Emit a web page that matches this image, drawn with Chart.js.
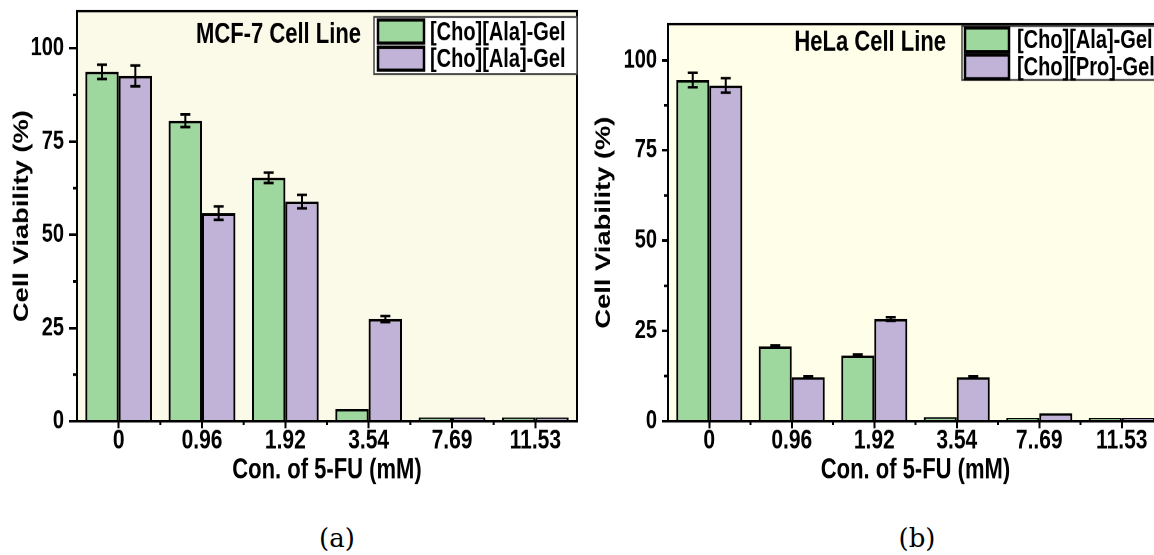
<!DOCTYPE html>
<html>
<head>
<meta charset="utf-8">
<script src="https://cdn.jsdelivr.net/npm/chart.js@4.4.0/dist/chart.umd.min.js"></script>
<style>
  html, body { margin: 0; padding: 0; background: #fff; }
  body { width: 1154px; height: 555px; overflow: hidden; position: relative; }
  /* the source figure is stretched vertically, so the panels are too */
  .panel { position: absolute; top: 0; width: 600px; height: 385px; transform: scaleY(1.3); transform-origin: 0 0; }
  .cap { position: absolute; top: 523px; width: 80px; margin-left: -40px; text-align: center;
         font-family: 'DejaVu Serif', 'Liberation Serif', serif; font-size: 26px; line-height: 30px; color: #000; }
</style>
</head>
<body>
<div class="panel" style="left:0"><canvas id="chartA" width="600" height="385"></canvas></div>
<div class="panel" style="left:585px"><canvas id="chartB" width="600" height="385"></canvas></div>
<div class="cap" style="left:337px">(a)</div>
<div class="cap" style="left:917px">(b)</div>
<script>
const labelsA = ['0', '0.96', '1.92', '3.54', '7.69', '11.53'];
const labelsB = ['0', '0.96', '1.92', '3.54', '7..69', '11.53'];
const yTicks = [0, 25, 50, 75, 100];

// MCF-7 (both series are labelled [Cho][Ala]-Gel in the figure)
const mcfFirst = [93.7, 80.6, 65.3, 3.3, 1.0, 1.0];
const mcfFirstErr = [1.9, 1.7, 1.4, 0, 0, 0];
const mcfSecond = [92.6, 55.8, 58.9, 27.4, 1.0, 1.0];
const mcfSecondErr = [2.8, 1.8, 1.8, 0.8, 0, 0];

// HeLa
const helaAla = [94.5, 20.7, 18.2, 1.1, 0.9, 0.9];
const helaAlaErr = [2.0, 0.3, 0.3, 0, 0, 0];
const helaPro = [93.0, 12.2, 28.3, 12.2, 2.2, 0.9];
const helaProErr = [2.0, 0.2, 0.5, 0.2, 0, 0];

const green = '#9fd89f';
const purple = '#c1b2d7';
const fontFam = '"Liberation Sans", Arial, sans-serif';

Chart.defaults.font.family = fontFam;
Chart.defaults.color = '#000';

// background, error bars, minor ticks, frame, inner title and legend
const panelDecor = {
    id: 'panelDecor',
    beforeDraw(chart, args, opts) {
        const { ctx, chartArea: a } = chart;
        ctx.save();
        ctx.fillStyle = opts.bg;
        ctx.fillRect(a.left, a.top, a.right - a.left, a.bottom - a.top);
        ctx.restore();
    },
    afterDatasetsDraw(chart) {
        const { ctx } = chart;
        const y = chart.scales.y;
        ctx.save();
        ctx.strokeStyle = '#000';
        ctx.lineWidth = 2;
        chart.data.datasets.forEach((ds, i) => {
            chart.getDatasetMeta(i).data.forEach((bar, j) => {
                const err = ds.errors[j];
                if (!err) return;
                const y1 = y.getPixelForValue(ds.data[j] + err);
                const y2 = y.getPixelForValue(ds.data[j] - err);
                ctx.beginPath();
                ctx.moveTo(bar.x, y1); ctx.lineTo(bar.x, y2);
                ctx.moveTo(bar.x - 5, y1); ctx.lineTo(bar.x + 5, y1);
                ctx.moveTo(bar.x - 5, y2); ctx.lineTo(bar.x + 5, y2);
                ctx.stroke();
            });
        });
        ctx.restore();
    },
    afterDraw(chart, args, opts) {
        const { ctx, chartArea: a, scales: { x, y } } = chart;
        ctx.save();
        ctx.strokeStyle = '#000';
        ctx.lineWidth = 2;
        ctx.beginPath();
        yTicks.forEach(v => {
            const m = v + 12.5;
            if (m > y.max) return;
            const py = y.getPixelForValue(m);
            ctx.moveTo(a.left - 4, py); ctx.lineTo(a.left, py);
        });
        for (let i = 0; i < x.ticks.length - 1; i++) {
            const px = (x.getPixelForValue(i) + x.getPixelForValue(i + 1)) / 2;
            ctx.moveTo(px, a.bottom); ctx.lineTo(px, a.bottom + 3);
        }
        ctx.stroke();
        ctx.strokeRect(a.left, a.top, a.right - a.left, a.bottom - a.top);

        ctx.fillStyle = '#000';
        ctx.font = 'bold 22px ' + fontFam;
        ctx.textAlign = 'right';
        ctx.textBaseline = 'middle';
        ctx.fillText(opts.title, a.right - opts.titleDx, a.top + opts.titleDy);

        const L = opts.legend;
        const bx = a.right - L.dx, by = a.top + L.dy;
        ctx.fillStyle = '#fff';
        ctx.fillRect(bx, by, L.w, L.h);
        ctx.lineWidth = 1.5;
        ctx.strokeStyle = '#444';
        ctx.strokeRect(bx, by, L.w, L.h);
        ctx.font = 'bold 20px ' + fontFam;
        ctx.textAlign = 'left';
        chart.data.datasets.forEach((ds, i) => {
            const sy = by + L.padY + i * (L.sh + L.gap);
            ctx.fillStyle = ds.backgroundColor;
            ctx.fillRect(bx + L.padX, sy, L.sw, L.sh);
            ctx.lineWidth = 2.5;
            ctx.strokeStyle = '#000';
            ctx.strokeRect(bx + L.padX, sy, L.sw, L.sh);
            ctx.fillStyle = '#000';
            ctx.fillText(ds.label, bx + L.textDx, sy + L.sh / 2 + 1);
        });
        ctx.restore();
    }
};

const barSet = (label, data, errors, color) => ({
    label, data, errors,
    backgroundColor: color,
    borderColor: '#000',
    borderWidth: 2,
    borderSkipped: 'start',
    categoryPercentage: 0.8,
    barPercentage: 1.0
});

const panelConfig = (labels, datasets, p) => ({
    type: 'bar',
    data: { labels, datasets },
    options: {
        responsive: false,
        animation: false,
        devicePixelRatio: 2,
        layout: { padding: p.padding },
        plugins: {
            legend: { display: false },
            tooltip: { enabled: false },
            panelDecor: p.decor
        },
        scales: {
            x: {
                offset: true,
                grid: { display: true, drawOnChartArea: false, offset: false, tickLength: 5.5, tickWidth: 2, tickColor: '#000' },
                border: { display: true, color: '#000', width: 2 },
                ticks: { color: '#000', font: { size: 21, weight: 'bold', lineHeight: 1 }, padding: -1, maxRotation: 0, autoSkip: false },
                title: { display: true, text: 'Con. of 5-FU (mM)', color: '#000', font: { size: 22, weight: 'bold' }, padding: 0 },
                afterFit: (s) => { s.height = 51; s.paddingLeft = 0; s.paddingRight = 0; }
            },
            y: {
                min: 0,
                max: 110,
                afterBuildTicks: (s) => { s.ticks = yTicks.map(v => ({ value: v })); },
                afterFit: (s) => { s.width = p.yWidth; s.paddingTop = 0; s.paddingBottom = 0; },
                grid: { display: true, drawOnChartArea: false, tickLength: p.yTickLen, tickWidth: 2, tickColor: '#000' },
                border: { display: true, color: '#000', width: 2 },
                ticks: { color: '#000', font: { size: 20, weight: 'bold' }, padding: 5 },
                title: { display: true, text: 'Cell Viability (%)', color: '#000', font: { size: 21, weight: 'bold' }, padding: 0 }
            }
        }
    },
    plugins: [panelDecor]
});

new Chart(document.getElementById('chartA'), panelConfig(labelsA, [
    barSet('[Cho][Ala]-Gel', mcfFirst, mcfFirstErr, green),
    barSet('[Cho][Ala]-Gel', mcfSecond, mcfSecondErr, purple)
], {
    padding: { left: 9.4, right: 23, top: 8.5, bottom: 10 },
    yWidth: 67.6,
    yTickLen: 8,
    decor: {
        bg: '#fbf9e7',
        title: 'MCF-7 Cell Line', titleDx: 216, titleDy: 18.5,
        legend: { dx: 203, dy: 4.6, w: 203, h: 43.8, padX: 4, padY: 2.3, sw: 46, sh: 17.7, gap: 3.2, textDx: 56 }
    }
}));

new Chart(document.getElementById('chartB'), panelConfig(labelsB, [
    barSet('[Cho][Ala]-Gel', helaAla, helaAlaErr, green),
    barSet('[Cho][Pro]-Gel', helaPro, helaProErr, purple)
], {
    padding: { left: 6.4, right: 22, top: 18.5, bottom: 10 },
    yWidth: 76.6,
    yTickLen: 6,
    decor: {
        bg: '#fffee9',
        title: 'HeLa Cell Line', titleDx: 217, titleDy: 14.6,
        legend: { dx: 201, dy: 1.5, w: 201, h: 41.5, padX: 3, padY: 1.5, sw: 44, sh: 18.3, gap: 2.5, textDx: 55 }
    }
}));
</script>
</body>
</html>
